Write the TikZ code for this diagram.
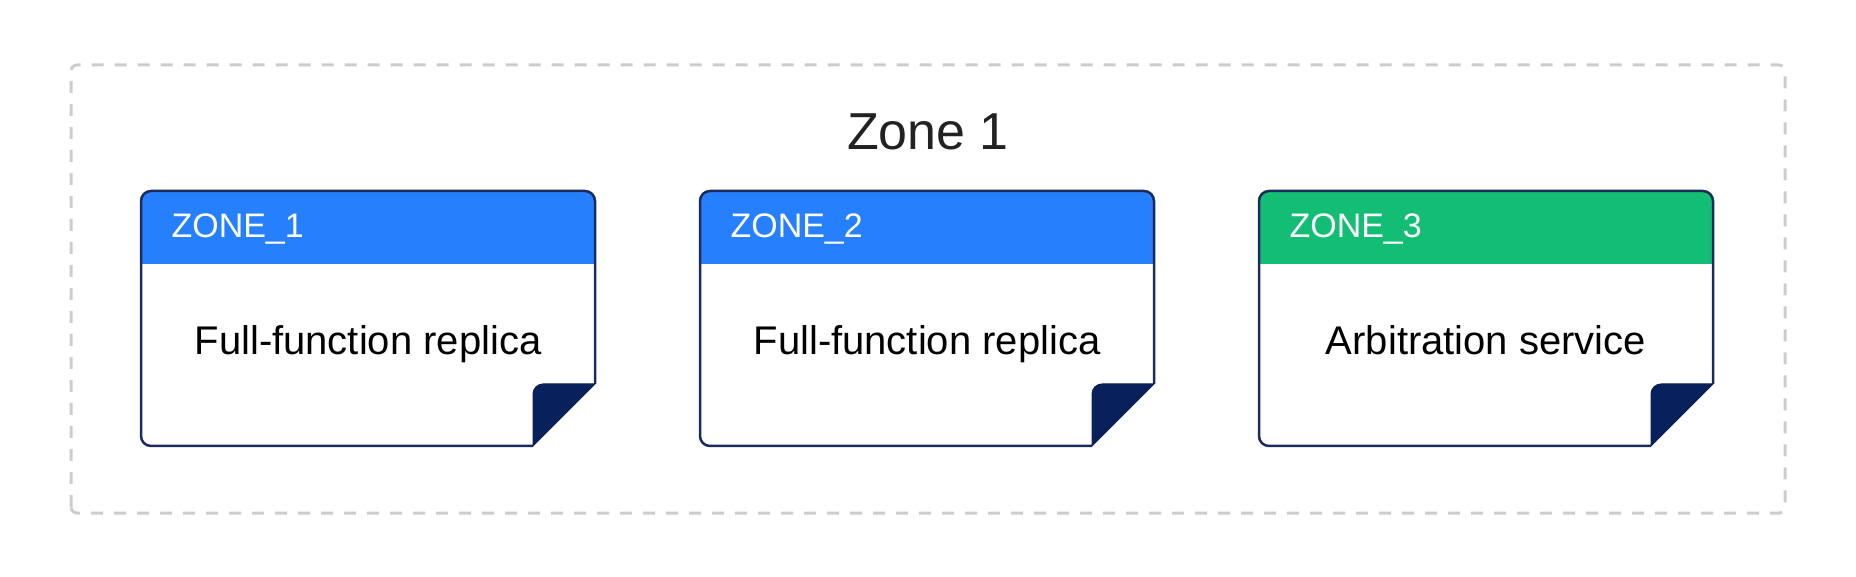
\documentclass[tikz,border=0pt]{standalone}
\usepackage{fontspec}
\setmainfont{Liberation Sans}
\usepackage{tikz}
\usetikzlibrary{positioning}
\usetikzlibrary{calc}
\definecolor{zoneblue}{HTML}{2680FE}
\definecolor{zonegreen}{HTML}{13BE74}
\definecolor{cardnavy}{HTML}{1A2B5C}
\definecolor{foldnavy}{HTML}{08215C}
\definecolor{zonegray}{HTML}{CCCCCC}
\definecolor{titlegray}{HTML}{222222}
% card outline with coloured header and folded corner
\newcommand{\zonecard}[2]{
    \fill[#2, rounded corners=10pt] (#1.north west) rectangle ($(#1.north east)+(0,-83)$);
    \fill[white] ($(#1.north west)+(0,-73)$) rectangle ($(#1.north east)+(0,-84)$);
    \draw[cardline] ($(#1.south east)+(-62,0)$) -- (#1.south west) -- (#1.north west)
        -- (#1.north east) -- ($(#1.south east)+(0,62)$);
    \filldraw[fold] ($(#1.south east)+(-62,0)$) -- ($(#1.south east)+(-62,52)$)
        arc[start angle=180, end angle=90, radius=10] -- ($(#1.south east)+(0,62)$) -- cycle;
}

\begin{document}
\begin{tikzpicture}[x=1pt, y=1pt,
        card/.style = {minimum width=454pt, minimum height=255pt, inner sep=0pt, outer sep=0pt},
        cardline/.style = {draw=cardnavy, line width=2.5pt, rounded corners=10pt},
        fold/.style = {draw=foldnavy, fill=foldnavy, line width=1pt, line join=round},
        head/.style = {font=\fontsize{34}{40}\selectfont, text=white, anchor=base west},
        body/.style = {font=\fontsize{40}{48}\selectfont, text=black, anchor=base},
        node distance=105pt]
    \useasboundingbox (0,0) rectangle (1856,576);
    \draw[zonegray, line width=3pt, dash pattern=on 12pt off 11pt, rounded corners=6pt]
        (71,63) rectangle (1785,511);
    \node[font=\fontsize{52}{60}\selectfont, text=titlegray, anchor=base] (title) at (928,426) {Zone 1};

    \node[card] (zone1) at (368,257.5) {};
    \node[card, right=of zone1] (zone2) {};
    \node[card, right=of zone2] (zone3) {};
    \zonecard{zone1}{zoneblue}
    \zonecard{zone2}{zoneblue}
    \zonecard{zone3}{zonegreen}

    \node[head] (zone1head) at ($(zone1.north west)+(27,-47)$) {ZONE\_1};
    \node[head] (zone2head) at ($(zone2.north west)+(27,-47)$) {ZONE\_2};
    \node[head] (zone3head) at ($(zone3.north west)+(27,-47)$) {ZONE\_3};
    \node[body] (zone1body) at ($(zone1.north)+(0,-164)$) {Full-function replica};
    \node[body] (zone2body) at ($(zone2.north)+(0,-164)$) {Full-function replica};
    \node[body] (zone3body) at ($(zone3.north)+(0,-164)$) {Arbitration service};
\end{tikzpicture}
\end{document}
